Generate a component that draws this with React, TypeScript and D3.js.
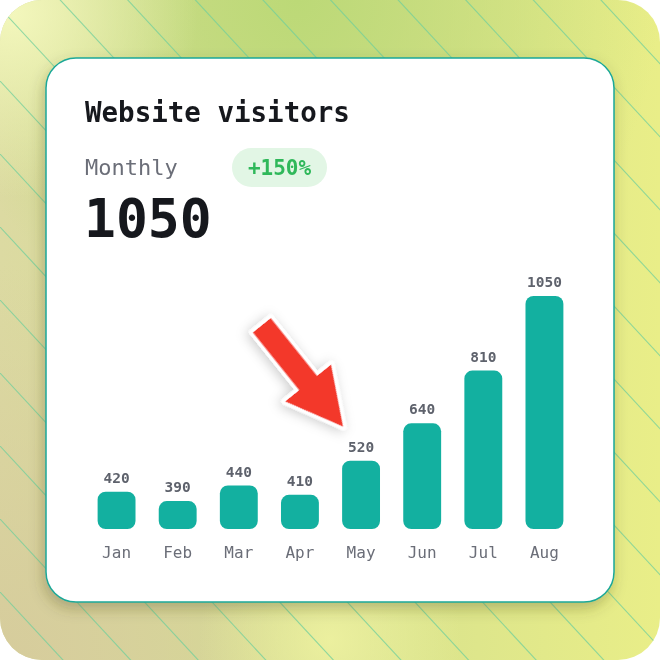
import * as d3 from "d3";

const months = ["Jan", "Feb", "Mar", "Apr", "May", "Jun", "Jul", "Aug"];
const visitors = [420, 390, 440, 410, 520, 640, 810, 1050];
const highlightMonth = "May";
const title = "Website visitors";
const subtitle = "Monthly";
const total = "1050";
const change = "+150%";

const W = 660;
const H = 660;
const CARD = { x: 46, y: 58, w: 568, h: 544, r: 30 };
const MONO = "'DejaVu Sans Mono', 'Liberation Mono', monospace";

export default function App() {
  // scales for the bars
  const xScale = d3
    .scaleBand<string>()
    .domain(months)
    .range([86, 575])
    .paddingInner(0.38)
    .paddingOuter(0.19);
  const yScale = d3.scaleLinear().domain([300, 1050]).range([529, 296]);
  const base = yScale(300);

  // decorative diagonal stripes of the backdrop
  const slope = 1.08;
  const stripes = d3.range(-10, 10).map((k) => 8 + 73 * k);

  // arrow pointing at the highlighted bar
  const hx = xScale(highlightMonth)!;
  const hv = visitors[months.indexOf(highlightMonth)];
  const tipX = hx + 1;
  const tipY = yScale(hv) - 34;
  const angle = (Math.atan2(101, 81) * 180) / Math.PI;
  const arrowPts = [
    [0, 0],
    [-56, -29.5],
    [-56, -11.5],
    [-130, -11.5],
    [-130, 11.5],
    [-56, 11.5],
    [-56, 29.5],
  ];
  const arrowPath = d3.line()(arrowPts as [number, number][]) + "Z";

  return (
    <svg
      width={W}
      height={H}
      style={{ position: "fixed", left: 0, top: 0, display: "block" }}
    >
      <defs>
        <linearGradient id="bgBase" x1="0" y1="0" x2="1" y2="0">
          <stop offset="0%" stopColor="#dcdaa2" />
          <stop offset="45%" stopColor="#d3de8e" />
          <stop offset="100%" stopColor="#e9ee88" />
        </linearGradient>
        <radialGradient id="bgGreen" cx="0.45" cy="0" r="0.55">
          <stop offset="0%" stopColor="#bcd977" stopOpacity="1" />
          <stop offset="100%" stopColor="#bcd977" stopOpacity="0" />
        </radialGradient>
        <radialGradient id="bgTan" cx="0" cy="1" r="0.6">
          <stop offset="0%" stopColor="#d6cc9c" stopOpacity="1" />
          <stop offset="100%" stopColor="#d6cc9c" stopOpacity="0" />
        </radialGradient>
        <radialGradient id="bgPale" cx="0.02" cy="0.02" r="0.28">
          <stop offset="0%" stopColor="#f3f7bc" stopOpacity="1" />
          <stop offset="100%" stopColor="#f3f7bc" stopOpacity="0" />
        </radialGradient>
        <radialGradient id="bgYellow" cx="0.5" cy="0.97" r="0.2">
          <stop offset="0%" stopColor="#eef2a0" stopOpacity="0.9" />
          <stop offset="100%" stopColor="#eef2a0" stopOpacity="0" />
        </radialGradient>
        <clipPath id="bgClip">
          <rect x={0} y={0} width={W} height={H} rx={42} />
        </clipPath>
        <filter id="cardShadow" x="-10%" y="-10%" width="120%" height="125%">
          <feDropShadow dx="-2" dy="6" stdDeviation="7" floodColor="#4a4a20" floodOpacity="0.3" />
        </filter>
        <filter id="arrowShadow" x="-40%" y="-40%" width="180%" height="180%">
          <feDropShadow dx="0" dy="3" stdDeviation="6" floodColor="#000" floodOpacity="0.2" />
        </filter>
      </defs>

      {/* backdrop */}
      <g clipPath="url(#bgClip)">
        <rect width={W} height={H} fill="url(#bgBase)" />
        <rect width={W} height={H} fill="url(#bgGreen)" />
        <rect width={W} height={H} fill="url(#bgTan)" />
        <rect width={W} height={H} fill="url(#bgPale)" />
        <rect width={W} height={H} fill="url(#bgYellow)" />
        {stripes.map((y0, i) => (
          <line
            key={i}
            x1={-20}
            y1={y0 - 20 * slope}
            x2={W + 20}
            y2={y0 + (W + 20) * slope}
            stroke="#6fcf9c"
            strokeWidth={1.1}
            strokeOpacity={0.75}
          />
        ))}
      </g>

      {/* card */}
      <rect
        x={CARD.x}
        y={CARD.y}
        width={CARD.w}
        height={CARD.h}
        rx={CARD.r}
        fill="#ffffff"
        stroke="#1aa898"
        strokeWidth={1.5}
        filter="url(#cardShadow)"
      />

      {/* header */}
      <text x={85} y={122} fontFamily={MONO} fontWeight="bold" fontSize={27.5} fill="#16181d">
        {title}
      </text>
      <text x={85} y={175} fontFamily={MONO} fontSize={22} fill="#6b6e78">
        {subtitle}
      </text>
      <rect x={232} y={148} width={95} height={39} rx={19.5} fill="#e2f6e5" />
      <text
        x={279.5}
        y={175}
        textAnchor="middle"
        fontFamily={MONO}
        fontWeight="bold"
        fontSize={21}
        fill="#2fb85a"
      >
        {change}
      </text>
      <text x={84} y={237} fontFamily={MONO} fontWeight="bold" fontSize={53} fill="#16181d">
        {total}
      </text>

      {/* bars */}
      {months.map((m, i) => {
        const x = xScale(m)!;
        const y = yScale(visitors[i]);
        const cx = x + xScale.bandwidth() / 2;
        return (
          <g key={m}>
            <rect
              x={x}
              y={y}
              width={xScale.bandwidth()}
              height={base - y}
              rx={8}
              fill="#13b0a0"
            />
            <text
              x={cx}
              y={y - 9}
              textAnchor="middle"
              fontFamily={MONO}
              fontWeight="bold"
              fontSize={14.5}
              fill="#5e626c"
            >
              {visitors[i]}
            </text>
            <text
              x={cx}
              y={base + 29}
              textAnchor="middle"
              fontFamily={MONO}
              fontSize={16}
              fill="#6b6e78"
            >
              {m}
            </text>
          </g>
        );
      })}

      {/* arrow */}
      <g transform={`translate(${tipX},${tipY}) rotate(${angle})`} filter="url(#arrowShadow)">
        <path
          d={arrowPath}
          fill="#f3392c"
          stroke="#ffffff"
          strokeWidth={7}
          strokeLinejoin="round"
          style={{ paintOrder: "stroke" }}
        />
      </g>
    </svg>
  );
}
